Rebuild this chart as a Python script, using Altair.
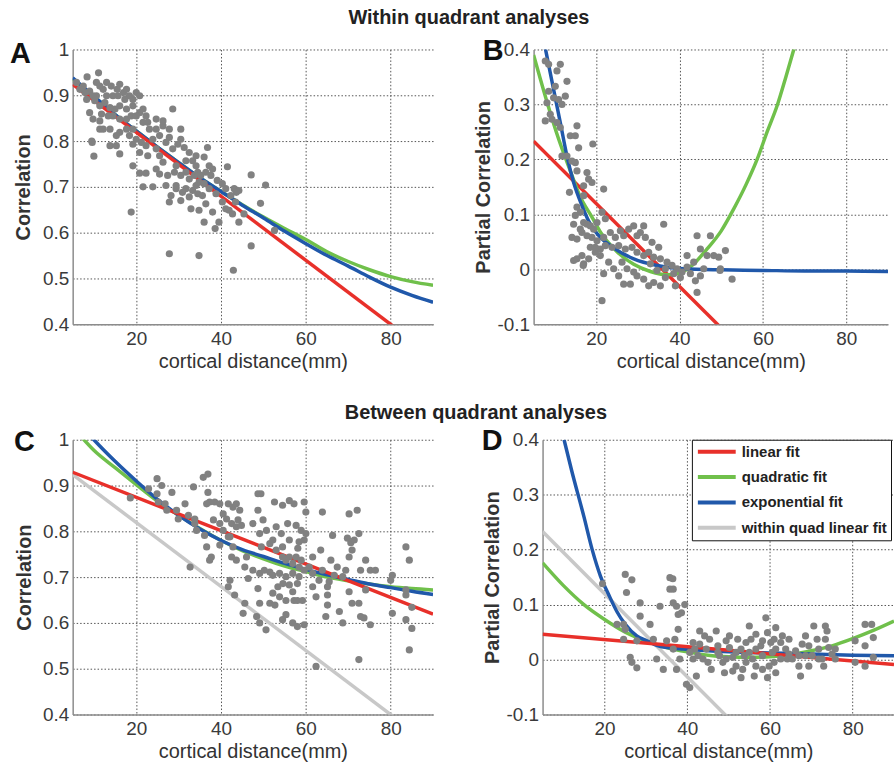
import altair as alt
import pandas as pd

FONT = "Liberation Sans"
FITS = ["linear fit", "quadratic fit", "exponential fit", "within quad linear fit"]
FIT_COLORS = ["#e8302a", "#70c04b", "#2058aa", "#c8c8c8"]
POINT_COLOR = "#818181"

X_TICKS = [20, 40, 60, 80]
CORR_TICKS = [0.4, 0.5, 0.6, 0.7, 0.8, 0.9, 1.0]
PCORR_TICKS = [-0.1, 0.0, 0.1, 0.2, 0.3, 0.4]

# ---------------- Panel A (within quadrant, correlation) ----------------
A_POINTS = [
    (8.4, .940), (11.1, .949), (9.0, .909), (9.8, .848), (11.4, .844), (9.5, .800), (9.6, .797),
    (10.0, .767), (11.4, .826), (13.8, .790), (15.3, .790), (16.1, .772), (18.8, .645), (19.2, .746),
    (20.8, .730), (21.6, .700), (23.9, .700), (22.3, .730), (28.6, .870), (27.8, .554), (34.8, .550),
    (42.9, .518), (47.1, .571), (47.1, .726), (50.5, .704), (49.3, .664), (52.6, .605), (41.5, .744),
    (44.2, .692), (43.1, .696), (43.6, .688), (44.2, .623), (45.4, .641), (41.9, .649), (39.5, .623),
    (38.6, .609), (38.0, .645), (36.0, .623), (34.8, .649), (32.9, .652), (32.5, .678), (30.5, .670),
    (27.8, .667), (28.2, .681), (27.0, .703), (27.4, .725), (25.5, .728), (38.8, .685), (37.2, .696),
    (36.4, .663), (34.8, .710), (36.8, .786), (36.0, .765), (34.1, .746), (33.3, .757), (31.7, .757),
    (30.5, .826), (30.5, .804), (28.6, .783), (27.0, .797), (25.5, .768), (24.7, .783), (23.9, .804),
    (23.1, .826), (24.7, .826), (26.3, .833), (27.8, .826), (22.3, .790), (20.8, .775), (22.7, .768),
    (19.2, .826), (20.8, .862), (19.2, .877), (18.4, .899), (20.0, .906), (20.8, .899), (17.7, .870),
    (16.1, .877), (15.0, .870), (13.8, .873), (15.5, .913), (17.0, .906), (17.3, .891), (15.7, .899),
    (14.5, .899), (13.0, .899), (12.2, .913), (11.4, .920), (10.6, .899), (12.6, .884), (14.5, .855),
    (16.1, .848), (17.7, .848), (18.8, .855), (20.0, .855), (21.6, .870), (22.3, .855), (22.7, .841),
    (24.7, .848), (26.3, .844), (21.6, .841), (17.7, .826), (16.1, .819), (15.3, .812), (13.8, .826),
    (12.2, .826), (18.4, .812), (20.0, .804), (21.2, .797), (19.2, .793), (24.7, .739), (26.3, .754),
    (29.4, .746), (29.0, .732), (30.5, .725), (31.7, .732), (32.5, .717), (33.7, .725), (34.5, .732),
    (35.2, .725), (36.4, .732), (37.6, .725), (36.0, .707), (34.1, .703), (33.3, .692), (31.7, .696),
    (30.9, .688), (29.4, .703), (34.5, .685), (35.6, .681), (37.2, .746), (38.0, .739), (39.1, .714),
    (40.3, .707), (31.3, .786), (32.5, .775), (34.1, .768), (29.8, .793), (27.8, .808), (25.5, .812),
    (29.4, .696), (41.1, .696), (42.3, .681), (43.4, .667), (41.1, .652), (42.7, .641), (40.3, .667),
    (7.5, .920), (7.9, .906), (6.7, .913), (5.9, .928), (9.8, .899), (8.3, .891), (10.2, .888),
    (11.4, .877), (10.6, .928), (13.0, .928), (14.1, .920), (16.1, .924), (17.7, .913), (19.2, .891),
    (11.8, .859), (13.4, .855), (9.0, .862),
]
A_LINEAR = [(5, .924), (90, .330)]
A_QUADRATIC = [(5, .935), (10, .897), (15, .858), (20, .822), (25, .787), (30, .753), (35, .720),
               (40, .690), (45, .661), (50, .634), (55, .609), (60, .585), (65, .558), (70, .537),
               (75, .519), (80, .504), (85, .493), (90, .485)]
A_EXPONENTIAL = [(5, .938), (10, .898), (15, .858), (20, .822), (25, .787), (30, .753), (35, .720),
                 (40, .690), (45, .660), (50, .632), (55, .603), (60, .576), (65, .550), (70, .527),
                 (75, .503), (80, .481), (85, .463), (90, .448)]

# ---------------- Panel B (within quadrant, partial correlation) ----------------
B_POINTS = [
    (7.8, .379), (8.6, .373), (11.4, .373), (10.6, .361), (13.0, .342), (10.2, .333), (8.6, .324),
    (9.8, .312), (11.0, .309), (12.6, .315), (11.8, .300), (8.2, .303), (9.0, .282), (7.8, .270),
    (9.4, .273), (10.6, .267), (11.4, .258), (15.4, .261), (13.8, .243), (15.0, .243), (15.8, .221),
    (19.2, .228), (11.8, .206), (13.0, .206), (14.2, .197), (15.0, .194), (15.4, .179), (17.8, .176),
    (18.2, .164), (19.0, .158), (17.0, .152), (13.6, .140), (17.0, .134), (21.8, .146), (15.4, .113),
    (16.2, .104), (14.6, .082), (14.2, .058), (15.4, .055), (17.0, .085), (17.8, .082), (18.6, .079),
    (19.4, .073), (20.2, .085), (21.4, .104), (22.2, .092), (16.6, .067), (17.8, .061), (19.0, .058),
    (20.2, .052), (21.8, .058), (23.4, .067), (24.6, .058), (25.8, .070), (26.6, .061), (27.8, .073),
    (29.0, .079), (30.6, .067), (31.8, .058), (33.4, .049), (35.0, .040), (36.2, .082), (31.4, .079),
    (29.8, .061), (18.6, .040), (19.8, .031), (21.0, .037), (22.2, .043), (23.8, .040), (25.4, .043),
    (27.0, .037), (28.6, .040), (29.8, .031), (31.4, .025), (32.6, .031), (33.8, .022), (35.4, .019),
    (37.0, .013), (38.2, .007), (39.4, .001), (40.6, -.005), (41.8, .004), (42.6, -.008), (44.2, .061),
    (47.4, .061), (51.0, .034), (48.2, .025), (45.0, -.012), (44.2, -.042), (43.8, -.021), (39.0, -.030),
    (36.6, -.015), (35.4, -.030), (33.8, -.024), (32.6, -.030), (31.4, -.018), (29.8, -.012),
    (28.2, -.027), (26.6, -.027), (25.4, -.012), (24.2, .001), (23.0, .013), (21.8, -.008), (21.0, .025),
    (18.2, .019), (16.6, .025), (15.4, .019), (17.0, .010), (21.4, -.057), (19.8, .040), (16.2, .073),
    (15.0, .098), (26.2, .013), (27.4, .001), (29.0, -.005), (33.0, .010), (34.6, -.002), (36.6, .001),
    (38.6, -.008), (40.2, -.015), (41.8, .025), (43.4, .013), (45.0, .037), (46.6, .025), (49.4, .022),
    (49.8, .001), (45.8, .001), (52.6, -.018), (49.7, -.002), (14.6, .016), (16.9, .007),
]
B_LINEAR = [(5, .233), (90, -.409)]
B_QUADRATIC = [(5, .390), (8, .310), (11, .237), (14, .175), (16, .135), (19, .095), (21, .068),
               (25, .032), (29, .009), (33, -.004), (37, -.010), (40, -.007), (43, .007), (46.6, .037),
               (50, .070), (53, .110), (56, .155), (58.6, .200), (61, .250), (63.5, .300), (65.5, .350),
               (67.4, .400), (68.5, .430)]
B_EXPONENTIAL = [(7.6, .410), (9.8, .327), (11.4, .267), (13, .206), (14.6, .158), (16.6, .116),
                 (18.2, .088), (21, .058), (24, .040), (29, .019), (34.6, .007), (41, .001), (50, -.001),
                 (60, -.002), (70, -.003), (80, -.003), (90, -.004)]

# ---------------- Panel C (between quadrant, correlation) ----------------
C_POINTS = [
    (18.6, .873), (22.9, .893), (24.9, .915), (26.0, .900), (24.9, .882), (25.2, .864), (26.8, .860),
    (28.4, .885), (27.2, .846), (29.5, .846), (29.9, .827), (31.5, .860), (32.3, .835), (33.5, .897),
    (33.8, .817), (32.7, .722), (35.8, .918), (36.9, .925), (36.9, .885), (37.3, .864), (36.6, .860),
    (36.6, .766), (37.7, .744), (37.3, .737), (38.5, .864), (39.7, .860), (40.5, .838), (38.2, .825),
    (39.7, .817), (41.7, .860), (42.8, .853), (43.6, .860), (44.4, .846), (41.3, .827), (42.5, .817),
    (43.6, .810), (44.8, .813), (44.0, .825), (40.5, .802), (42.1, .788), (42.8, .766), (42.5, .744),
    (43.6, .737), (41.7, .679), (43.2, .661), (45.2, .621), (46.0, .744), (47.5, .817), (48.7, .882),
    (49.4, .882), (48.7, .846), (49.1, .795), (49.5, .766), (51.5, .773), (52.2, .781), (53.0, .759),
    (47.5, .715), (49.1, .708), (50.2, .715), (51.5, .711), (52.2, .704), (53.8, .708), (55.3, .701),
    (56.9, .708), (58.4, .701), (58.0, .686), (56.1, .683), (54.6, .686), (53.4, .679), (52.2, .665),
    (53.8, .657), (48.7, .675), (49.1, .643), (51.5, .643), (52.7, .639), (55.3, .649), (57.2, .649),
    (59.2, .649), (55.3, .618), (54.5, .607), (56.9, .600), (58.0, .592), (59.6, .596), (45.6, .643),
    (48.4, .614), (49.1, .600), (50.6, .585), (52.6, .864), (54.5, .857), (56.1, .867), (57.2, .860),
    (59.6, .864), (60.0, .842), (55.7, .817), (57.7, .813), (58.9, .802), (60.0, .795), (59.6, .781),
    (58.1, .763), (57.7, .744), (58.9, .737), (56.1, .744), (55.3, .737), (54.5, .744), (56.9, .730),
    (58.4, .722), (59.6, .715), (60.8, .722), (61.6, .744), (63.5, .759), (63.9, .842), (66.3, .791),
    (65.9, .737), (66.7, .704), (65.5, .690), (65.1, .679), (65.1, .661), (65.1, .639), (61.6, .679),
    (62.4, .657), (64.7, .614), (67.9, .625), (68.7, .600), (70.2, .838), (72.1, .846), (69.8, .785),
    (70.6, .775), (71.4, .781), (72.5, .795), (70.9, .759), (70.2, .744), (69.4, .715), (67.4, .722),
    (68.7, .701), (70.2, .668), (70.9, .643), (72.5, .643), (74.1, .737), (75.2, .715), (76.4, .715),
    (72.9, .715), (74.1, .672), (72.9, .614), (73.7, .611), (75.2, .596), (72.5, .520), (80.4, .704),
    (80.0, .693), (80.4, .621), (83.6, .661), (83.6, .607), (84.4, .737), (83.6, .766), (85.0, .634),
    (85.0, .588), (84.4, .541), (83.6, .672), (56.9, .668), (58.0, .649), (61.6, .708), (63.1, .693),
    (63.9, .715), (41.7, .788), (45.6, .722), (46.4, .697), (42.1, .693), (39.7, .770), (33.8, .827),
    (34.2, .802), (36.1, .791), (49.9, .825), (50.7, .802), (53.0, .810), (54.2, .795), (56.1, .781),
    (54.5, .766), (58.4, .777), (62.4, .505),
]
C_LINEAR = [(5, .929), (90, .619)]
C_QUADRATIC = [(6.5, 1.012), (10, .977), (15, .939), (20, .902), (25, .866), (30, .835), (35, .806),
               (40, .780), (45, .758), (50, .740), (55, .724), (60, .712), (65, .700), (70, .692),
               (75, .685), (80, .679), (85, .675), (90, .672)]
C_EXPONENTIAL = [(9.5, 1.005), (10, 1.000), (15, .953), (20, .910), (25, .870), (30, .835), (35, .805),
                 (40, .780), (45, .760), (50, .745), (55, .730), (60, .717), (65, .705), (70, .695),
                 (75, .685), (80, .677), (85, .669), (90, .662)]
C_WITHIN = [(5, .924), (90, .330)]

# ---------------- Panel D (between quadrant, partial correlation) ----------------
D_POINTS = [
    (25.0, .155), (26.6, .145), (25.3, .122), (23.0, .064), (24.6, .064), (25.0, .055), (24.6, .037),
    (26.2, .004), (26.6, -.005), (27.8, -.015), (27.8, .034), (28.6, .103), (28.6, .079), (31.0, .064),
    (31.8, .037), (32.6, .001), (33.4, .097), (34.2, -.018), (35.0, .034), (35.8, .149), (36.5, .147),
    (35.8, .128), (36.6, .128), (36.6, .103), (37.4, .097), (37.8, .082), (38.6, .085), (39.4, .100),
    (37.8, .055), (37.0, .037), (36.6, .019), (38.2, .001), (37.4, -.018), (39.8, -.045), (40.6, -.051),
    (42.2, -.030), (41.4, .001), (41.8, .019), (43.0, .052), (44.2, .043), (41.4, .031), (40.6, .013),
    (42.6, .007), (43.8, .001), (44.6, .019), (45.0, -.005), (45.8, -.018), (47.0, .052), (47.4, .025),
    (47.8, .007), (48.6, -.005), (49.0, -.024), (49.4, .034), (50.2, .022), (51.0, .004), (51.8, -.012),
    (52.2, .037), (53.0, .019), (53.8, .007), (54.2, -.005), (55.0, .013), (55.8, .001), (56.6, -.012),
    (56.2, -.030), (55.0, .061), (56.6, .046), (57.8, .025), (58.2, .007), (59.0, .076), (59.4, .049),
    (60.2, .031), (60.6, .013), (61.4, .058), (61.0, -.005), (61.4, -.024), (63.0, .043), (63.8, .019),
    (64.2, .001), (64.6, .037), (65.4, .001), (67.0, -.012), (67.4, -.030), (66.2, .016), (68.6, .043),
    (69.4, .025), (70.2, .007), (70.6, .061), (71.4, .037), (71.8, .019), (72.6, .001), (73.4, .061),
    (73.8, .052), (73.4, .037), (74.2, .022), (75.0, .010), (73.0, -.012), (80.6, .034), (80.6, -.005),
    (83.0, .064), (84.6, .064), (83.0, .025), (85.0, .040), (85.0, .004), (83.0, -.012), (47.4, .013),
    (45.4, .037), (50.2, .043), (43.0, .028), (51.8, .013), (53.4, -.018), (58.2, -.018), (59.8, -.012),
    (61.4, .019), (62.6, .001), (68.6, .007), (69.4, -.012), (67.8, .028), (64.6, .010), (54.2, .031),
    (49.4, .001), (53.0, -.033), (51.0, -.021), (56.6, .019), (58.2, .034), (55.4, .037), (61.0, .037),
    (62.6, .031), (59.4, -.033), (67.0, .007), (71.8, .001), (75.8, .019), (75.8, .001), (19.5, .138),
]
D_LINEAR = [(5, .046), (90, -.009)]
D_QUADRATIC = [(5, .176), (10, .135), (15, .100), (20, .073), (25, .050), (30, .034), (35, .022),
               (40, .014), (45, .008), (50, .005), (55, .004), (60, .005), (65, .009), (70, .016),
               (75, .025), (80, .038), (85, .053), (90, .070)]
D_EXPONENTIAL = [(10.2, .400), (12, .345), (15, .260), (17, .200), (19, .152), (21, .118), (23, .087),
                 (25, .064), (27.8, .043), (30, .035), (32.6, .026), (36, .021), (39, .019), (50, .014),
                 (60, .012), (70, .010), (80, .008), (90, .007)]
D_WITHIN = [(5, .233), (90, -.409)]

LABEL_EXPR = "replace(format(datum.value, '~g'), '\u2212', '-')"


def panel(points, curves, ydom, yticks, ytitle, letter, lx, ly, width, ytpad, legend=None):
    xs = alt.Scale(domain=[5, 90], nice=False, zero=False)
    ys = alt.Scale(domain=ydom, nice=False, zero=False)
    grid = dict(grid=True, gridDash=[1.5, 2], gridColor="#555555", gridWidth=1,
                domainColor="#8c8c8c", domainWidth=1.5, ticks=False,
                labelFont=FONT, labelFontSize=19, labelColor="#3a3a3a",
                titleFont=FONT, titleFontSize=20, titleColor="#333333")
    xaxis = alt.Axis(values=X_TICKS, title="cortical distance(mm)", labelPadding=5,
                     titlePadding=3, titleFontWeight="normal", labelFlush=False, **grid)
    yaxis = alt.Axis(values=yticks, title=ytitle, labelPadding=4, titlePadding=ytpad,
                     titleFontWeight="bold", labelExpr=LABEL_EXPR, **grid)
    X = alt.X("x:Q", scale=xs, axis=xaxis)
    Y = alt.Y("y:Q", scale=ys, axis=yaxis)
    layers = []
    for name, pts in curves:
        df = pd.DataFrame(pts, columns=["x", "y"])
        df["fit"] = name
        if legend is not None:
            mark = alt.Chart(df).mark_line(strokeWidth=3.5, clip=True, interpolate="monotone")
            layers.append(mark.encode(x=X, y=Y, color=alt.Color(
                "fit:N", scale=alt.Scale(domain=FITS, range=FIT_COLORS), legend=legend)))
        else:
            mark = alt.Chart(df).mark_line(strokeWidth=3.5, clip=True, interpolate="monotone",
                                            color=FIT_COLORS[FITS.index(name)])
            layers.append(mark.encode(x=X, y=Y))
    pdf = pd.DataFrame(points, columns=["x", "y"])
    layers.append(alt.Chart(pdf).mark_circle(size=52, color=POINT_COLOR, opacity=1).encode(x=X, y=Y))
    ldf = pd.DataFrame({"t": [letter]})
    layers.append(alt.Chart(ldf).mark_text(align="left", baseline="alphabetic", font=FONT,
                                           fontSize=29, fontWeight="bold", color="#111111")
                  .encode(text="t:N", x=alt.value(lx), y=alt.value(ly)))
    return alt.layer(*layers).properties(width=width, height=276)


legend = alt.Legend(title=None, orient="none", legendX=150, legendY=0, symbolType="stroke",
                    symbolSize=1444, symbolStrokeWidth=4, labelFont=FONT, labelFontSize=15,
                    labelFontWeight="bold", labelColor="#222222", strokeColor="#111111",
                    fillColor="white", padding=4, rowPadding=9.5, labelOffset=4, clipHeight=16)

A = panel(A_POINTS, [("quadratic fit", A_QUADRATIC), ("exponential fit", A_EXPONENTIAL),
                     ("linear fit", A_LINEAR)],
          [0.4, 1.0], CORR_TICKS, "Correlation", "A", -63, 14, 362, 9)
B = panel(B_POINTS, [("linear fit", B_LINEAR), ("quadratic fit", B_QUADRATIC),
                     ("exponential fit", B_EXPONENTIAL)],
          [-0.1, 0.4], PCORR_TICKS, "Partial Correlation", "B", -51, 11, 356, 4)
C = panel(C_POINTS, [("within quad linear fit", C_WITHIN), ("quadratic fit", C_QUADRATIC),
                     ("exponential fit", C_EXPONENTIAL), ("linear fit", C_LINEAR)],
          [0.4, 1.0], CORR_TICKS, "Correlation", "C", -59, 11, 362, 8)
D = panel(D_POINTS, [("within quad linear fit", D_WITHIN), ("quadratic fit", D_QUADRATIC),
                     ("exponential fit", D_EXPONENTIAL), ("linear fit", D_LINEAR)],
          [-0.1, 0.4], PCORR_TICKS, "Partial Correlation", "D", -61, 10, 353, 4, legend=legend)


def row_title(text, dx, offset):
    return alt.TitleParams(text, anchor="middle", dx=dx, fontSize=20, font=FONT,
                           fontWeight="bold", color="#222222", offset=offset)


row1 = alt.hconcat(A, B, spacing=101, bounds="flush").properties(
    title=row_title("Within quadrant analyses", 20, 10))
row2 = (alt.hconcat(C, D, spacing=110, bounds="flush")
        .properties(title=row_title("Between quadrant analyses", 22, 4))
        .resolve_scale(color="independent")
        .resolve_legend(color="independent"))

chart = (
    alt.vconcat(row1, row2, spacing=32)
    .properties(padding={"left": 10, "top": 6, "right": 0, "bottom": 0})
    .resolve_scale(color="independent")
    .configure_view(stroke=None)
)

chart.save("out.html", embed_options={"renderer": "svg", "actions": False})
